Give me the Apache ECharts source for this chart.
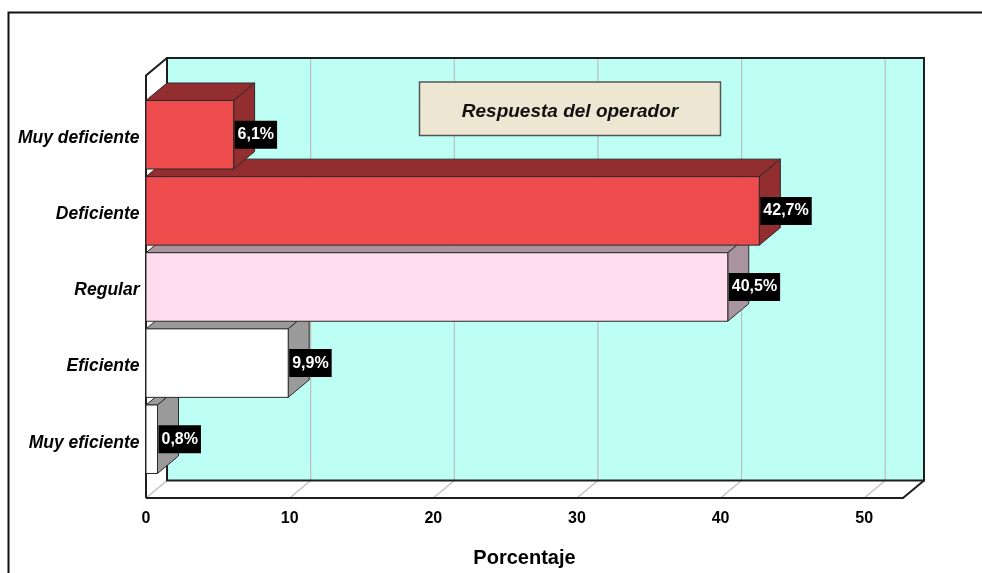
<!DOCTYPE html>
<html>
<head>
<meta charset="utf-8">
<script src="https://cdn.jsdelivr.net/npm/echarts@6/dist/echarts.min.js"></script>
<style>
  html, body { margin: 0; padding: 0; background: #fff; }
  #chart { width: 982px; height: 573px; }
</style>
</head>
<body>
<div id="chart"></div>
<script>
// Data
const categories = ['Muy deficiente', 'Deficiente', 'Regular', 'Eficiente', 'Muy eficiente'];
const percentages = [6.1, 42.7, 40.5, 9.9, 0.8];
const xTicks = [0, 10, 20, 30, 40, 50];
const legendLabel = 'Respuesta del operador';
const axisTitle = 'Porcentaje';

// Face colours for each bar (front, top, side)
const faceColors = [
  { front: '#EE4B4D', top: '#922E2F', side: '#922E2F' },
  { front: '#EE4B4D', top: '#922E2F', side: '#922E2F' },
  { front: '#FFDDEE', top: '#A8939E', side: '#A8939E' },
  { front: '#FFFFFF', top: '#9A9A9A', side: '#9A9A9A' },
  { front: '#FFFFFF', top: '#9A9A9A', side: '#9A9A9A' }
];

const FONT = '"Liberation Sans", Arial, Helvetica, sans-serif';
const DX = 21, DY = -17.5;          // depth offset of the 3D box
const FLOOR_GAP = 20.7;             // grid bottom -> floor front edge
const TOP_GAP = 21.2;               // grid top -> front top of left wall
const EDGE = '#1e1e1e';
const GRIDC = '#BDBDBD';

function fmt(v) { return v.toFixed(1).replace('.', ',') + '%'; }

// Walls, floor and grid lines of the 3D box
function renderFrame(params, api) {
  const cs = params.coordSys;
  const L = cs.x, R = cs.x + cs.width;
  const floorY = cs.y + cs.height + FLOOR_GAP;
  const topY = cs.y - TOP_GAP;
  const ch = [];
  ch.push({ type: 'rect', shape: { x: L + DX, y: topY + DY, width: R - L, height: floorY - topY },
            style: { fill: '#BEFFF5' } });
  ch.push({ type: 'polygon', shape: { points: [[L, topY], [L + DX, topY + DY], [L + DX, floorY + DY], [L, floorY]] },
            style: { fill: '#FFFFFF' } });
  ch.push({ type: 'polygon', shape: { points: [[L, floorY], [L + DX, floorY + DY], [R + DX, floorY + DY], [R, floorY]] },
            style: { fill: '#FFFFFF' } });
  xTicks.forEach(function (t) {
    const x = api.coord([t, 0])[0];
    if (t > 0) {
      ch.push({ type: 'line', shape: { x1: x + DX, y1: topY + DY, x2: x + DX, y2: floorY + DY },
                style: { stroke: GRIDC, lineWidth: 1.2 } });
    }
    ch.push({ type: 'line', shape: { x1: x, y1: floorY, x2: x + DX, y2: floorY + DY },
              style: { stroke: GRIDC, lineWidth: 1.2 } });
  });
  // back wall outline
  ch.push({ type: 'rect', shape: { x: L + DX, y: topY + DY, width: R - L, height: floorY - topY },
            style: { fill: null, stroke: EDGE, lineWidth: 2 } });
  // left wall edges
  ch.push({ type: 'polyline', shape: { points: [[L, floorY], [L, topY], [L + DX, topY + DY]] },
            style: { fill: null, stroke: EDGE, lineWidth: 2 } });
  // floor front and right edges
  ch.push({ type: 'polyline', shape: { points: [[L, floorY], [R, floorY], [R + DX, floorY + DY]] },
            style: { fill: null, stroke: EDGE, lineWidth: 2 } });
  return { type: 'group', children: ch };
}

// One 3D bar with its value tag
function renderBar(params, api) {
  const v = api.value(0);
  const cat = api.value(1);
  const start = api.coord([0, cat]);
  const end = api.coord([v, cat]);
  const h = api.size([0, 1])[1] * 0.9;
  const yt = end[1] - h / 2, yb = end[1] + h / 2;
  const x0 = start[0], x1 = end[0];
  const c = faceColors[cat];
  const stroke = { stroke: '#2a2a2a', lineWidth: 1 };
  return {
    type: 'group',
    children: [
      { type: 'polygon', shape: { points: [[x0, yt], [x1, yt], [x1 + DX, yt + DY], [x0 + DX, yt + DY]] },
        style: Object.assign({ fill: c.top }, stroke) },
      { type: 'polygon', shape: { points: [[x1, yt], [x1 + DX, yt + DY], [x1 + DX, yb + DY], [x1, yb]] },
        style: Object.assign({ fill: c.side }, stroke) },
      { type: 'rect', shape: { x: x0, y: yt, width: x1 - x0, height: h },
        style: Object.assign({ fill: c.front }, stroke) },
      { type: 'text', x: x1 + 1, y: end[1],
        style: { text: fmt(v), fill: '#FFFFFF', font: 'bold 16px ' + FONT, align: 'left',
                 verticalAlign: 'middle', backgroundColor: '#000000', padding: [6, 3, 6, 3] } }
    ]
  };
}

// lower rows first so the rows above cover their top faces
const barData = categories.map(function (c, i) { return [percentages[i], i]; }).reverse();

const chart = echarts.init(document.getElementById('chart'));
chart.setOption({
  animation: false,
  backgroundColor: '#FFFFFF',
  grid: { left: 146, right: 79, top: 96.7, bottom: 94.7 },
  xAxis: {
    type: 'value', min: 0, max: 52.7, interval: 10, offset: FLOOR_GAP,
    axisLine: { show: false }, axisTick: { show: false }, splitLine: { show: false },
    axisLabel: {
      margin: 13, color: '#000', fontFamily: FONT, fontWeight: 'bold', fontSize: 16,
      formatter: function (v) { return xTicks.indexOf(v) >= 0 ? String(v) : ''; }
    },
    name: axisTitle, nameLocation: 'middle', nameGap: 50,
    nameTextStyle: { color: '#000', fontFamily: FONT, fontWeight: 'bold', fontSize: 20 }
  },
  yAxis: {
    type: 'category', data: categories, inverse: true,
    axisLine: { show: false }, axisTick: { show: false }, splitLine: { show: false },
    axisLabel: {
      margin: 6.5,
      formatter: function (v) { return '{c|' + v + '}'; },
      rich: {
        c: { color: '#000', fontFamily: FONT, fontWeight: 'bold', fontStyle: 'italic',
             fontSize: 17.5, lineHeight: 25, verticalAlign: 'bottom' }
      }
    }
  },
  graphic: [
    { type: 'rect', z: 100, shape: { x: 8.5, y: 12.5, width: 1000, height: 600 },
      style: { fill: null, stroke: '#111', lineWidth: 2 } },
    { type: 'rect', z: 100, shape: { x: 419.5, y: 82, width: 301, height: 53.5 },
      style: { fill: '#EDE6D3', stroke: '#555', lineWidth: 1.5 } },
    { type: 'text', z: 101, x: 570, y: 112,
      style: { text: legendLabel, fill: '#111', font: 'italic bold 19px ' + FONT,
               align: 'center', verticalAlign: 'middle' } }
  ],
  series: [
    { type: 'custom', z: 1, silent: true, renderItem: renderFrame, data: [[0, 0]], clip: false },
    { type: 'custom', z: 2, silent: true, renderItem: renderBar, data: barData, clip: false,
      encode: { x: 0, y: 1 } }
  ]
});
</script>
</body>
</html>
